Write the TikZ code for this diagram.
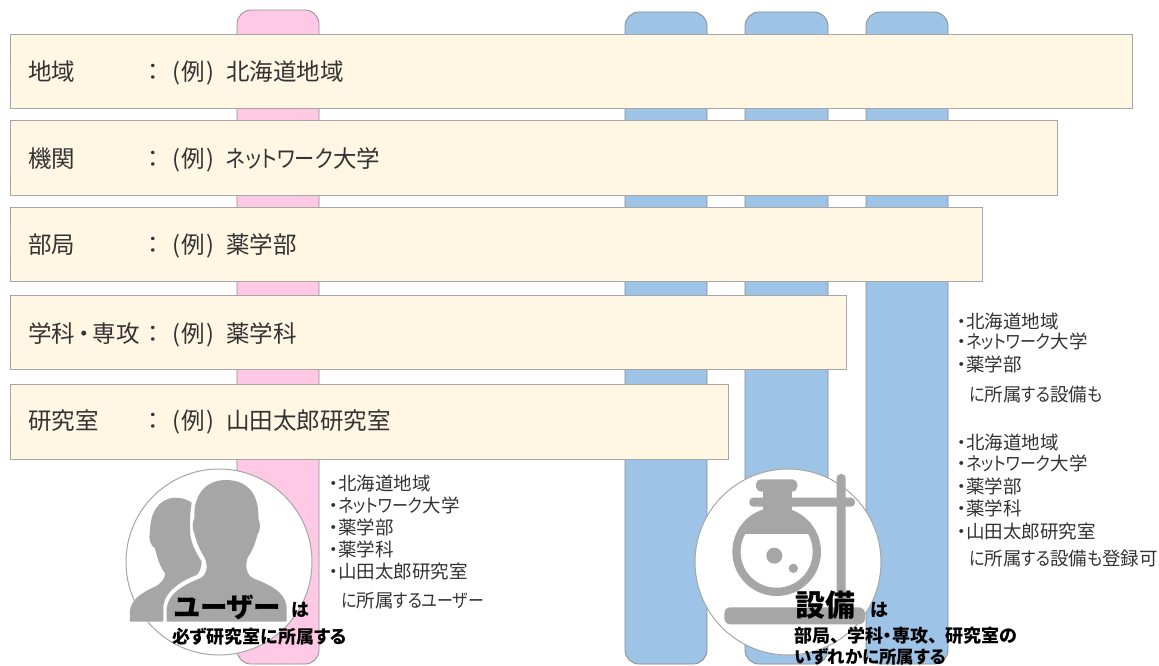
\documentclass[tikz,border=0pt]{standalone}
\usepackage{fontspec}
\setmainfont[RawFeature=+palt]{Noto Sans CJK JP}
\newfontfamily\knf[RawFeature=+palt,FakeStretch=0.86]{Noto Sans CJK JP}
\newcommand{\kn}[1]{{\knf #1}}
\newcommand{\fs}[1]{\fontsize{#1}{#1}\selectfont}
\definecolor{pinkbar}{HTML}{FFC9E6}
\definecolor{bluebar}{HTML}{9DC3E6}
\definecolor{creambar}{HTML}{FFF6E3}
\definecolor{edgegray}{HTML}{8C8C8C}
\definecolor{icongray}{HTML}{A6A6A6}
\definecolor{txt}{HTML}{333333}
\tikzset{
 x=1pt,y=-1pt,
 pillar/.style={draw=edgegray,line width=0.8pt,rounded corners=14pt},
 bar/.style={draw=icongray,line width=1pt,fill=creambar},
 disc/.style={draw=icongray,line width=1pt,fill=white},
 lab/.style={anchor=base west,inner sep=0pt,text=txt,font=\fs{23.5}},
 item/.style={anchor=base west,inner sep=0pt,text=txt,font=\fs{18.5}},
 big/.style={anchor=base west,inner sep=0pt,text=black,font=\bfseries\fs{30}},
 bigk/.style={anchor=base west,inner sep=0pt,text=black,font=\bfseries\fs{27.5}},
 sub/.style={anchor=base west,inner sep=0pt,text=black,font=\bfseries\fs{18}},
}
\newcommand{\eg}{(\hspace{1.5pt}例\hspace{1.5pt})}
\begin{document}
\begin{tikzpicture}
\useasboundingbox (0,0) rectangle (1159,665);
% pillars
\draw[pillar,fill=pinkbar] (237,10) rectangle (319,664);
\foreach \a/\b in {625/707,745/828,866/948}
  \draw[pillar,fill=bluebar] (\a,12) rectangle (\b,664);
% bars
\draw[bar] (10,34) rectangle (1132,108);
\draw[bar] (10,120) rectangle (1057,195);
\draw[bar] (10,207) rectangle (982,281);
\draw[bar] (10,295) rectangle (846,369);
\draw[bar] (10,384) rectangle (728,459);
% rows
\node[lab] (r1a) at (28,80) {地域};
\node[lab] (r1b) at (147,80) {：};
\node[lab] (r1c) at (172,80) {\eg};
\node[lab] (r1d) at (226,80) {北海道地域};
\node[lab] (r2a) at (28,167) {機関};
\node[lab] (r2b) at (147,167) {：};
\node[lab] (r2c) at (172,167) {\eg};
\node[lab] (r2d) at (226,167) {\kn{ネットワーク}大学};
\node[lab] (r3a) at (28,253) {部局};
\node[lab] (r3b) at (147,253) {：};
\node[lab] (r3c) at (172,253) {\eg};
\node[lab] (r3d) at (226,253) {薬学部};
\node[lab] (r4a) at (28,342) {学科\hspace{3pt}・\hspace{3pt}専攻};
\node[lab] (r4b) at (147,342) {：};
\node[lab] (r4c) at (172,342) {\eg};
\node[lab] (r4d) at (226,342) {薬学科};
\node[lab] (r5a) at (28,429) {研究室};
\node[lab] (r5b) at (147,429) {：};
\node[lab] (r5c) at (172,429) {\eg};
\node[lab] (r5d) at (226,429) {山田太郎研究室};
% circles
\draw[disc] (219,562) circle (93);
\draw[disc] (788,562) circle (93);
% people icon
\begin{scope}[shift={(100,450)},x=0.3333pt,y=-0.3333pt]
\fill[icongray] (90,515) -- (90,480) .. controls (95,450) and (120,430) .. (165,410)
  .. controls (185,400) and (195,385) .. (195,370) .. controls (180,350) and (170,320) .. (165,295)
  .. controls (150,285) and (145,265) .. (150,245) .. controls (150,190) and (175,145) .. (225,143)
  .. controls (245,143) and (262,148) .. (275,158) .. controls (270,190) and (268,230) .. (272,262)
  .. controls (278,290) and (290,310) .. (305,335) .. controls (305,350) and (300,365) .. (290,375)
  .. controls (250,390) and (195,420) .. (190,470) -- (190,515) -- cycle;
\fill[icongray] (200,515) -- (200,475) .. controls (205,430) and (250,405) .. (300,385)
  .. controls (320,375) and (325,350) .. (315,325) .. controls (300,300) and (290,280) .. (283,250)
  .. controls (275,235) and (278,215) .. (283,205) .. controls (280,130) and (320,90) .. (378,90)
  .. controls (440,90) and (478,130) .. (475,205) .. controls (482,220) and (482,240) .. (472,255)
  .. controls (465,285) and (455,305) .. (442,325) .. controls (435,350) and (440,375) .. (460,385)
  .. controls (510,405) and (555,425) .. (560,470) -- (560,515) -- cycle;
\end{scope}
% flask icon
\begin{scope}[shift={(680,450)},x=0.3333pt,y=-0.3333pt]
\fill[icongray,rounded corners=5pt] (228,88) rectangle (352,125);
\fill[icongray] (250,120) rectangle (335,190);
\fill[icongray,rounded corners=4pt] (208,143) rectangle (525,170);
\fill[icongray,rounded corners=4pt] (470,72) rectangle (497,490);
\fill[icongray,rounded corners=6pt] (133,472) rectangle (555,523);
\fill[icongray] (290,305) circle (133);
\begin{scope}
\clip (100,252) rectangle (480,450);
\fill[white] (290,305) circle (108);
\end{scope}
\fill[icongray] (283,317) circle (24);
\fill[icongray] (340,355) circle (14);
\end{scope}
% user list
\node[item] (u1) at (329,490) {・北海道地域};
\node[item] (u2) at (329,512) {・\kn{ネットワーク}大学};
\node[item] (u3) at (329,534) {・薬学部};
\node[item] (u4) at (329,556) {・薬学科};
\node[item] (u5) at (329,578) {・山田太郎研究室};
\node[item] (u6) at (341,607) {\kn{に}所属\kn{するユーザー}};
% equipment lists
\node[item] (e1) at (957,328) {・北海道地域};
\node[item] (e2) at (957,348) {・\kn{ネットワーク}大学};
\node[item] (e3) at (957,371) {・薬学部};
\node[item] (e4) at (969,401) {\kn{に}所属\kn{する}設備\kn{も}};
\node[item] (f1) at (957,449) {・北海道地域};
\node[item] (f2) at (957,470) {・\kn{ネットワーク}大学};
\node[item] (f3) at (957,493) {・薬学部};
\node[item] (f4) at (957,515) {・薬学科};
\node[item] (f5) at (957,538) {・山田太郎研究室};
\node[item] (f6) at (969,565) {\kn{に}所属\kn{する}設備\kn{も}登録可};
% bold captions
\node[bigk] (ub) at (174,617) {ユーザー};
\node[sub] (uc) at (291,616) {は};
\node[sub] (ud) at (172,643) {必ず研究室に所属する};
\node[big] (eb) at (795,616) {設備};
\node[sub] (ec) at (870,616) {は};
\node[sub] (ed) at (794,642) {部局、\hspace{8pt}学科・専攻、\hspace{8pt}研究室の};
\node[sub,font=\bfseries\fs{17.5}] (ee) at (794,663) {いずれかに所属する};
\end{tikzpicture}
\end{document}
